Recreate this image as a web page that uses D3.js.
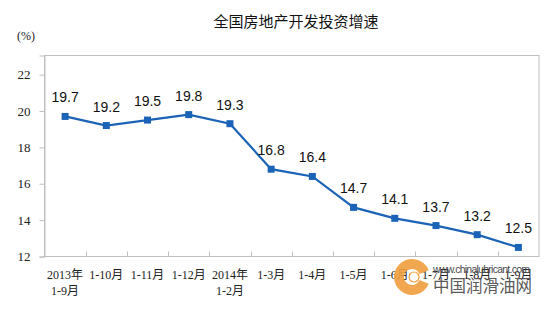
<!DOCTYPE html>
<html>
<head>
<meta charset="utf-8">
<script src="https://cdn.jsdelivr.net/npm/d3@7"></script>
<style>
  html, body { margin: 0; padding: 0; background: #fff; }
  svg { display: block; }
</style>
</head>
<body>
<svg id="chart" width="559" height="322"></svg>
<script>
// Cumulative period labels (line 1 / line 2)
const categories = [
  ["2013年", "1-9月"], ["1-10月"], ["1-11月"], ["1-12月"],
  ["2014年", "1-2月"], ["1-3月"], ["1-4月"], ["1-5月"],
  ["1-6月"], ["1-7月"], ["1-8月"], ["1-9月"]
];
// Year-on-year growth of national real-estate development investment (%)
const growth = [19.7, 19.2, 19.5, 19.8, 19.3, 16.8, 16.4, 14.7, 14.1, 13.7, 13.2, 12.5];
const yTicks = [12, 14, 16, 18, 20, 22];

const W = 559, H = 322;
const margin = { left: 44.5, right: 20, top: 55.5, bottom: 65.5 };
const svg = d3.select("#chart");

const x = d3.scaleBand()
  .domain(d3.range(categories.length))
  .range([margin.left, W - margin.right])
  .padding(0);
const y = d3.scaleLinear().domain([12, 23.05]).range([H - margin.bottom, margin.top]);

const axisColor = "#bfbfbf";
const plotL = margin.left, plotR = W - margin.right;
const plotT = margin.top, plotB = H - margin.bottom;

// Plot frame
svg.append("rect")
  .attr("x", plotL).attr("y", plotT)
  .attr("width", plotR - plotL).attr("height", plotB - plotT)
  .attr("fill", "none").attr("stroke", axisColor).attr("stroke-width", 1);

// Y axis
const yAxis = d3.axisLeft(y).tickValues(yTicks).tickSize(5).tickPadding(9).tickFormat(d3.format("d"));
const gy = svg.append("g").attr("transform", `translate(${plotL},0)`).call(yAxis);
gy.select(".domain").attr("stroke", axisColor);
gy.selectAll(".tick line").attr("stroke", axisColor);
gy.selectAll(".tick text")
  .attr("fill", "#222")
  .style("font-family", "'Liberation Serif', 'DejaVu Serif', serif")
  .style("font-size", "13px");

// Category boundary ticks on the x axis (pointing into the plot)
const bounds = d3.range(1, categories.length).map(i => x(i));
svg.append("g").selectAll("line").data(bounds).join("line")
  .attr("x1", d => Math.round(d) + 0.5).attr("x2", d => Math.round(d) + 0.5)
  .attr("y1", plotB).attr("y2", plotB - 5)
  .attr("stroke", axisColor);

// X labels
const xl = svg.append("g")
  .style("font-family", "'Liberation Serif', 'Noto Sans CJK SC', serif")
  .style("font-size", "12px")
  .attr("fill", "#222");
categories.forEach((lines, i) => {
  const t = xl.append("text")
    .attr("x", x(i) + x.bandwidth() / 2)
    .attr("y", 279)
    .attr("text-anchor", "middle");
  lines.forEach((s, k) => {
    t.append("tspan")
      .attr("x", x(i) + x.bandwidth() / 2)
      .attr("dy", k === 0 ? 0 : 16)
      .text(s);
  });
});

// Line and markers
const lineColor = "#1b63b6";
const cx = i => x(i) + x.bandwidth() / 2;
svg.append("path")
  .datum(growth)
  .attr("fill", "none")
  .attr("stroke", lineColor)
  .attr("stroke-width", 2.2)
  .attr("d", d3.line().x((d, i) => cx(i)).y(d => y(d)));

svg.append("g").selectAll("rect").data(growth).join("rect")
  .attr("x", (d, i) => cx(i) - 3.5)
  .attr("y", d => y(d) - 3.5)
  .attr("width", 7).attr("height", 7)
  .attr("fill", lineColor);

// Value labels
svg.append("g").selectAll("text").data(growth).join("text")
  .attr("x", (d, i) => cx(i))
  .attr("y", d => y(d) - 14)
  .attr("text-anchor", "middle")
  .style("font-family", "'Liberation Sans', Arial, sans-serif")
  .style("font-size", "14px")
  .attr("fill", "#111")
  .text(d => d3.format(".1f")(d));

// Title and unit
svg.append("text")
  .attr("x", 296).attr("y", 27)
  .attr("text-anchor", "middle")
  .style("font-family", "'Noto Sans CJK SC', sans-serif")
  .style("font-size", "15px")
  .attr("fill", "#111")
  .text("全国房地产开发投资增速");

svg.append("text")
  .attr("x", 26).attr("y", 40)
  .attr("text-anchor", "middle")
  .style("font-family", "'Liberation Serif', 'Noto Sans CJK SC', serif")
  .style("font-size", "12px")
  .attr("fill", "#222")
  .text("(%)");

// Site badge in the lower right corner, laid over the axis labels
const badge = svg.append("g");
const ring = d3.arc().innerRadius(8).outerRadius(18)
  .startAngle(Math.PI * 0.62).endAngle(Math.PI * 2.38);
badge.append("path")
  .attr("transform", "translate(412,277)")
  .attr("d", ring())
  .attr("fill", "#f0a040").attr("opacity", 0.92);
badge.append("circle")
  .attr("cx", 414).attr("cy", 277).attr("r", 5)
  .attr("fill", "#fff").attr("stroke", "#f0a040").attr("stroke-width", 1.2);
badge.append("text")
  .attr("x", 433).attr("y", 273)
  .style("font-family", "'Liberation Sans', Arial, sans-serif")
  .style("font-size", "10.5px")
  .attr("textLength", 97)
  .attr("fill", "#4a4a4a")
  .text("www.chinalubricant.com");
badge.append("text")
  .attr("x", 433).attr("y", 292)
  .style("font-family", "'Noto Sans CJK SC', sans-serif")
  .style("font-size", "16.5px")
  .attr("fill", "#5a5a5a")
  .text("中国润滑油网");
</script>
</body>
</html>
